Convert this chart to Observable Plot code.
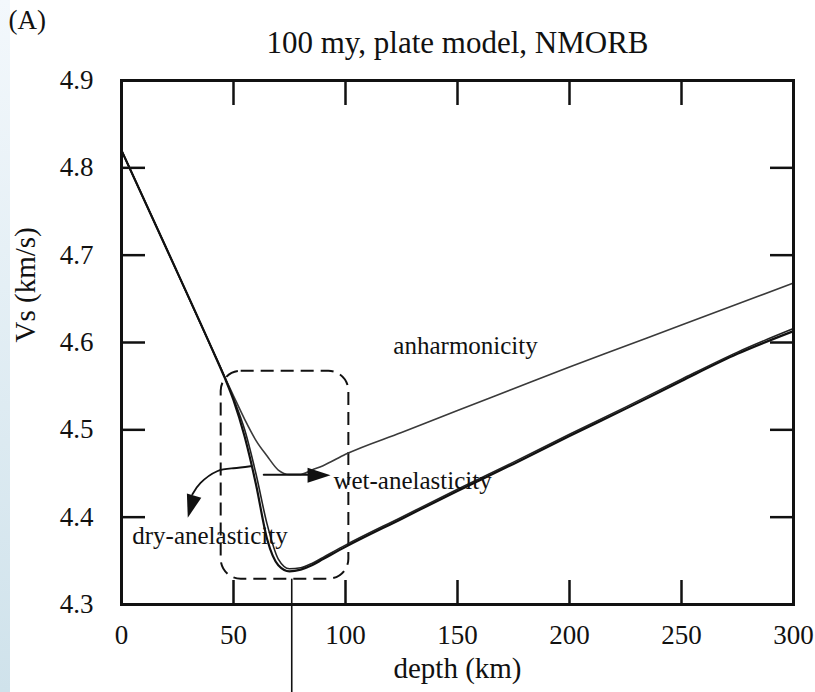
<!DOCTYPE html>
<html>
<head>
<meta charset="utf-8">
<script src="https://cdn.jsdelivr.net/npm/d3@7"></script>
<script src="https://cdn.jsdelivr.net/npm/@observablehq/plot@0.6"></script>
<style>
  html, body { margin: 0; padding: 0; background: #fff; }
  #wrap { position: relative; width: 815px; height: 692px; overflow: hidden; }
  #strip { position: absolute; left: 0; top: 0; width: 10px; height: 692px;
           background: linear-gradient(to bottom, #f3f8fc, #cfe2eb); }
  #chart { position: absolute; left: 0; top: 0; }
  #chart svg text { font-family: 'Liberation Serif', 'Times New Roman', serif; }
</style>
</head>
<body>
<div id="wrap"><div id="strip"></div><div id="chart"></div></div>
<script>
// ---- data ----
const depth = [0, 20, 40, 46, 50, 55, 60, 65, 70, 75, 80, 85, 90, 100, 125, 150, 175, 200, 225, 250, 275, 300];
const anharmonicity = [4.820, 4.708, 4.595, 4.561, 4.539, 4.512, 4.488, 4.470, 4.454, 4.449, 4.449, 4.454, 4.459, 4.472, 4.497, 4.522, 4.547, 4.572, 4.596, 4.620, 4.644, 4.668];
const wetAnelastic = [4.820, 4.708, 4.595, 4.561, 4.536, 4.500, 4.450, 4.392, 4.352, 4.341, 4.342, 4.347, 4.354, 4.368, 4.400, 4.432, 4.463, 4.495, 4.526, 4.558, 4.589, 4.616];
const dryAnelastic = [4.820, 4.708, 4.595, 4.560, 4.534, 4.492, 4.438, 4.375, 4.345, 4.338, 4.340, 4.345, 4.352, 4.366, 4.398, 4.430, 4.461, 4.493, 4.524, 4.556, 4.587, 4.613];

const xTicks = [0, 50, 100, 150, 200, 250, 300];
const yTicks = [4.3, 4.4, 4.5, 4.6, 4.7, 4.8, 4.9];

const title = "100 my, plate model, NMORB";
const panelLabel = "(A)";
const xLabel = "depth (km)";
const yLabel = "Vs (km/s)";

// annotations (data coordinates)
const anharmLabel = {text: "anharmonicity", d: 153.6, v: 4.596};
const wetLabel = {text: "wet-anelasticity", d: 94.6, v: 4.441};
const dryLabel = {text: "dry-anelasticity", d: 4.8, v: 4.378};
const boxDepth = [44.5, 101.5];
const boxVs = [4.329, 4.567];
const markerDepth = 76;
const markerVs = [4.329, 4.195];
const dryArrowD = [57.6, 50.0, 42.7, 35.3, 31.6];
const dryArrowV = [4.4583, 4.4560, 4.4526, 4.4392, 4.4260];
const wetArrowD = [63.5, 84.0];
const wetArrowV = [4.4485, 4.4485];
const heads = [
  {d: 88.2, v: 4.4480, rot: 90},
  {d: 31.0, v: 4.4120, rot: 196}
];

// ---- build ----
const curve = (name, vals) => depth.map((d, i) => ({d, v: vals[i], name}));
const arrowHead = {draw(ctx) { ctx.moveTo(0, -11.5); ctx.lineTo(7.5, 11.5); ctx.lineTo(-7.5, 11.5); ctx.closePath(); }};

const fontFamily = "'Liberation Serif', 'Times New Roman', serif";

const chart = Plot.plot({
  width: 815,
  height: 692,
  marginLeft: 121,
  marginRight: 22,
  marginTop: 80,
  marginBottom: 88,
  style: {fontFamily, fontSize: "27px", background: "transparent", color: "#111"},
  x: {domain: [0, 300], axis: null},
  y: {domain: [4.3, 4.9], axis: null},
  marks: [
    // tick labels
    Plot.axisX({ticks: xTicks, tickSize: 0, tickPadding: 0, dy: 31, lineAnchor: "middle", label: null, fontSize: 27, fontFamily, fill: "#111"}),
    Plot.axisY({ticks: yTicks, tickSize: 0, tickPadding: 28, tickFormat: ".1f", label: null, fontSize: 27, fontFamily, fill: "#111"}),
    // inward ticks
    Plot.axisX({ticks: xTicks, anchor: "bottom", tickSize: -24, text: null, label: null, strokeWidth: 2.5, stroke: "#111"}),
    Plot.axisX({ticks: xTicks, anchor: "top", tickSize: -24, text: null, label: null, strokeWidth: 2.5, stroke: "#111"}),
    Plot.axisY({ticks: yTicks, anchor: "left", tickSize: -24, text: null, label: null, strokeWidth: 2.5, stroke: "#111"}),
    Plot.axisY({ticks: yTicks, anchor: "right", tickSize: -24, text: null, label: null, strokeWidth: 2.5, stroke: "#111"}),
    // dashed box
    Plot.rect([0], {x1: boxDepth[0], x2: boxDepth[1], y1: boxVs[0], y2: boxVs[1], rx: 20, fill: "none", stroke: "#111", strokeWidth: 2, strokeDasharray: "13,7"}),
    // vertical marker
    Plot.ruleX([markerDepth], {y1: markerVs[0], y2: markerVs[1], stroke: "#111", strokeWidth: 1.6}),
    // curves
    Plot.line(curve("anharmonicity", anharmonicity), {x: "d", y: "v", curve: "monotone-x", stroke: "#3a3a3a", strokeWidth: 1.6}),
    Plot.line(curve("wet", wetAnelastic), {x: "d", y: "v", curve: "monotone-x", stroke: "#222", strokeWidth: 1.6}),
    Plot.line(curve("dry", dryAnelastic), {x: "d", y: "v", curve: "monotone-x", stroke: "#111", strokeWidth: 2.2}),
    // arrows
    Plot.line(dryArrowD.map((d, i) => ({d, v: dryArrowV[i]})), {x: "d", y: "v", curve: "natural", stroke: "#111", strokeWidth: 1.8}),
    Plot.line(wetArrowD.map((d, i) => ({d, v: wetArrowV[i]})), {x: "d", y: "v", stroke: "#111", strokeWidth: 2}),
    Plot.dot(heads, {x: "d", y: "v", rotate: "rot", symbol: arrowHead, fill: "#111", stroke: "none"}),
    // annotation texts
    Plot.text([anharmLabel], {x: "d", y: "v", text: "text", textAnchor: "middle", fontSize: 25, fontFamily, fill: "#111"}),
    Plot.text([wetLabel], {x: "d", y: "v", text: "text", textAnchor: "start", fontSize: 25, fontFamily, fill: "#111"}),
    Plot.text([dryLabel], {x: "d", y: "v", text: "text", textAnchor: "start", fontSize: 25, fontFamily, fill: "#111"}),
    // frame
    Plot.frame({stroke: "#111", strokeWidth: 3}),
    // titles
    Plot.text([title], {frameAnchor: "top", dy: -37, lineAnchor: "middle", fontSize: 31, fontFamily, fill: "#111"}),
    Plot.text([panelLabel], {frameAnchor: "top-left", dx: -113, dy: -60, lineAnchor: "middle", textAnchor: "start", fontSize: 27, fontFamily, fill: "#111"}),
    Plot.text([xLabel], {frameAnchor: "bottom", dy: 64, lineAnchor: "middle", fontSize: 29, fontFamily, fill: "#111"}),
    Plot.text([yLabel], {frameAnchor: "left", dx: -96, rotate: -90, lineAnchor: "middle", fontSize: 29, fontFamily, fill: "#111"})
  ]
});
document.getElementById("chart").appendChild(chart);
</script>
</body>
</html>
